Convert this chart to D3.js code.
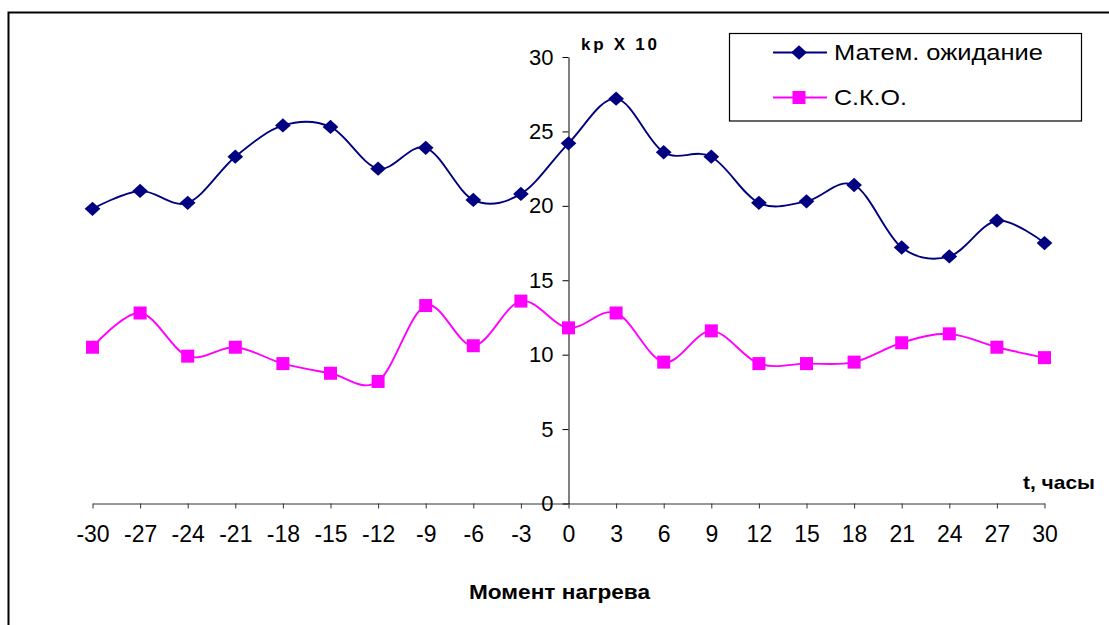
<!DOCTYPE html>
<html>
<head>
<meta charset="utf-8">
<script src="https://cdn.jsdelivr.net/npm/d3@7"></script>
<style>
  html, body { margin: 0; padding: 0; background: #fff; }
  svg { display: block; font-family: "Liberation Sans", Arial, sans-serif; }
</style>
</head>
<body>
<svg id="chart" width="1109" height="625"></svg>
<script>
// Time relative to the heating moment, hours
const hours = [-30, -27, -24, -21, -18, -15, -12, -9, -6, -3, 0, 3, 6, 9, 12, 15, 18, 21, 24, 27, 30];
// Expected value (kp x 10)
const meanValues = [19.8, 21.0, 20.2, 23.3, 25.4, 25.3, 22.5, 23.9, 20.4, 20.8, 24.2, 27.2, 23.6, 23.3, 20.2, 20.3, 21.4, 17.2, 16.6, 19.0, 17.5];
// Standard deviation (kp x 10)
const sdValues = [10.5, 12.8, 9.9, 10.5, 9.4, 8.75, 8.2, 13.3, 10.6, 13.6, 11.8, 12.8, 9.5, 11.6, 9.4, 9.4, 9.5, 10.8, 11.4, 10.5, 9.8];
const yTicks = [0, 5, 10, 15, 20, 25, 30];
const seriesNames = ["Матем. ожидание", "С.К.О."];

const svg = d3.select("#chart");
const navy = "#000080", magenta = "#FF00FF";
const font = "Liberation Sans, Arial, sans-serif";

// Outer frame of the chart area
svg.append("path")
  .attr("d", "M8.5,640 V12.5 H1120")
  .attr("fill", "none").attr("stroke", "#000").attr("stroke-width", 2);

const x = d3.scaleLinear().domain([-30, 30]).range([92.5, 1044.5]);
const y = d3.scaleLinear().domain([0, 30]).range([503.5, 57]);

// X axis through y = 0
const xAxis = svg.append("g").attr("transform", `translate(0,${y(0)})`)
  .call(d3.axisBottom(x).tickValues(hours).tickSize(5).tickSizeOuter(0).tickPadding(17)
    .tickFormat(d => String(d)));
xAxis.select(".domain").attr("stroke", "#333");
xAxis.selectAll(".tick line").attr("stroke", "#333");
xAxis.selectAll(".tick text").attr("font-size", 23).attr("fill", "#000").attr("font-family", font);

// Y axis at x = 0
const yAxis = svg.append("g").attr("transform", `translate(${x(0)},0)`)
  .call(d3.axisLeft(y).tickValues(yTicks).tickSize(6).tickSizeOuter(0).tickPadding(9)
    .tickFormat(d => String(d)));
yAxis.select(".domain").attr("stroke", "#000");
yAxis.selectAll(".tick line").attr("stroke", "#000");
yAxis.selectAll(".tick text").attr("font-size", 22).attr("fill", "#000").attr("font-family", font);

const line = d3.line().x((d, i) => x(hours[i])).y(d => y(d)).curve(d3.curveCardinal.tension(0));

// Expected value series
svg.append("path").datum(meanValues).attr("d", line)
  .attr("fill", "none").attr("stroke", navy).attr("stroke-width", 1.9);
svg.append("g").selectAll("path").data(meanValues).join("path")
  .attr("d", d3.symbol(d3.symbolDiamond2, 130))
  .attr("transform", (d, i) => `translate(${x(hours[i])},${y(d)}) scale(1.1,1)`)
  .attr("fill", navy);

// Standard deviation series
svg.append("path").datum(sdValues).attr("d", line)
  .attr("fill", "none").attr("stroke", magenta).attr("stroke-width", 1.9);
svg.append("g").selectAll("rect").data(sdValues).join("rect")
  .attr("x", (d, i) => x(hours[i]) - 6.5).attr("y", d => y(d) - 6.5)
  .attr("width", 13).attr("height", 13).attr("fill", magenta);

// Axis titles
svg.append("text").attr("x", 581).attr("y", 49.5).text("kp X 10")
  .attr("font-size", 17).attr("font-weight", "bold")
  .attr("textLength", 76).attr("lengthAdjust", "spacing");
svg.append("text").attr("x", 1023).attr("y", 489).text("t, часы")
  .attr("font-size", 19).attr("font-weight", "bold")
  .attr("textLength", 72).attr("lengthAdjust", "spacingAndGlyphs");
svg.append("text").attr("x", 469).attr("y", 599).text("Момент нагрева")
  .attr("font-size", 20).attr("font-weight", "bold")
  .attr("textLength", 181).attr("lengthAdjust", "spacingAndGlyphs");

// Legend
const legend = svg.append("g");
legend.append("rect").attr("x", 729.5).attr("y", 33.5).attr("width", 352).attr("height", 87.5)
  .attr("fill", "#fff").attr("stroke", "#000").attr("stroke-width", 1.2);
const legendRows = [
  { name: seriesNames[0], color: navy, yPos: 52.5, marker: "diamond", width: 209 },
  { name: seriesNames[1], color: magenta, yPos: 97.5, marker: "square", width: 73 }
];
legendRows.forEach(r => {
  legend.append("line").attr("x1", 773).attr("x2", 827).attr("y1", r.yPos).attr("y2", r.yPos)
    .attr("stroke", r.color).attr("stroke-width", 1.8);
  if (r.marker === "diamond") {
    legend.append("path").attr("d", d3.symbol(d3.symbolDiamond2, 130))
      .attr("transform", `translate(799,${r.yPos}) scale(1.1,1)`).attr("fill", r.color);
  } else {
    legend.append("rect").attr("x", 792.5).attr("y", r.yPos - 6.5).attr("width", 13).attr("height", 13)
      .attr("fill", r.color);
  }
  legend.append("text").attr("x", 834).attr("y", r.yPos + 7.5).text(r.name).attr("font-size", 21.5)
    .attr("textLength", r.width).attr("lengthAdjust", "spacingAndGlyphs");
});
</script>
</body>
</html>
